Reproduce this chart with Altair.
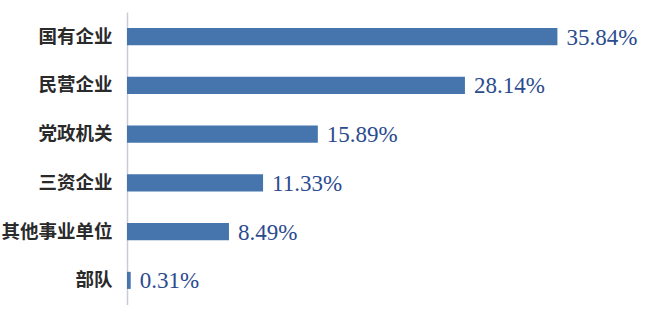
import altair as alt
import pandas as pd

categories = ["国有企业", "民营企业", "党政机关", "三资企业", "其他事业单位", "部队"]
values = [35.84, 28.14, 15.89, 11.33, 8.49, 0.31]
labels = ["35.84%", "28.14%", "15.89%", "11.33%", "8.49%", "0.31%"]

df = pd.DataFrame({"cat": categories, "val": values, "label": labels})

y = alt.Y("cat:N", sort=categories, title=None,
          scale=alt.Scale(paddingInner=0.65, paddingOuter=0.33),
          axis=alt.Axis(ticks=False, domainColor="#c9ccd6", domainWidth=1.5,
                        labelFont="Noto Sans CJK SC", labelFontWeight="bold",
                        labelFontSize=18.5, labelColor="#2a2a2a", labelPadding=15,
                        labelLimit=300))
x = alt.X("val:Q", title=None, scale=alt.Scale(domain=[0, 43.3]), axis=None)

bars = alt.Chart(df).mark_bar(color="#4674ad").encode(x=x, y=y)
text = alt.Chart(df).mark_text(align="left", baseline="middle", dx=9, dy=1,
                               font="Liberation Serif", fontSize=23,
                               color="#2b4b8f").encode(x=x, y=y, text="label:N")

chart = (bars + text).properties(
    width=520, height=293,
    autosize=alt.AutoSizeParams(type="none"),
    padding={"left": 127, "top": 12, "right": 0, "bottom": 0},
    background="#ffffff",
).configure_view(stroke=None)

chart.save("out.html", embed_options={"renderer": "svg", "actions": False})
